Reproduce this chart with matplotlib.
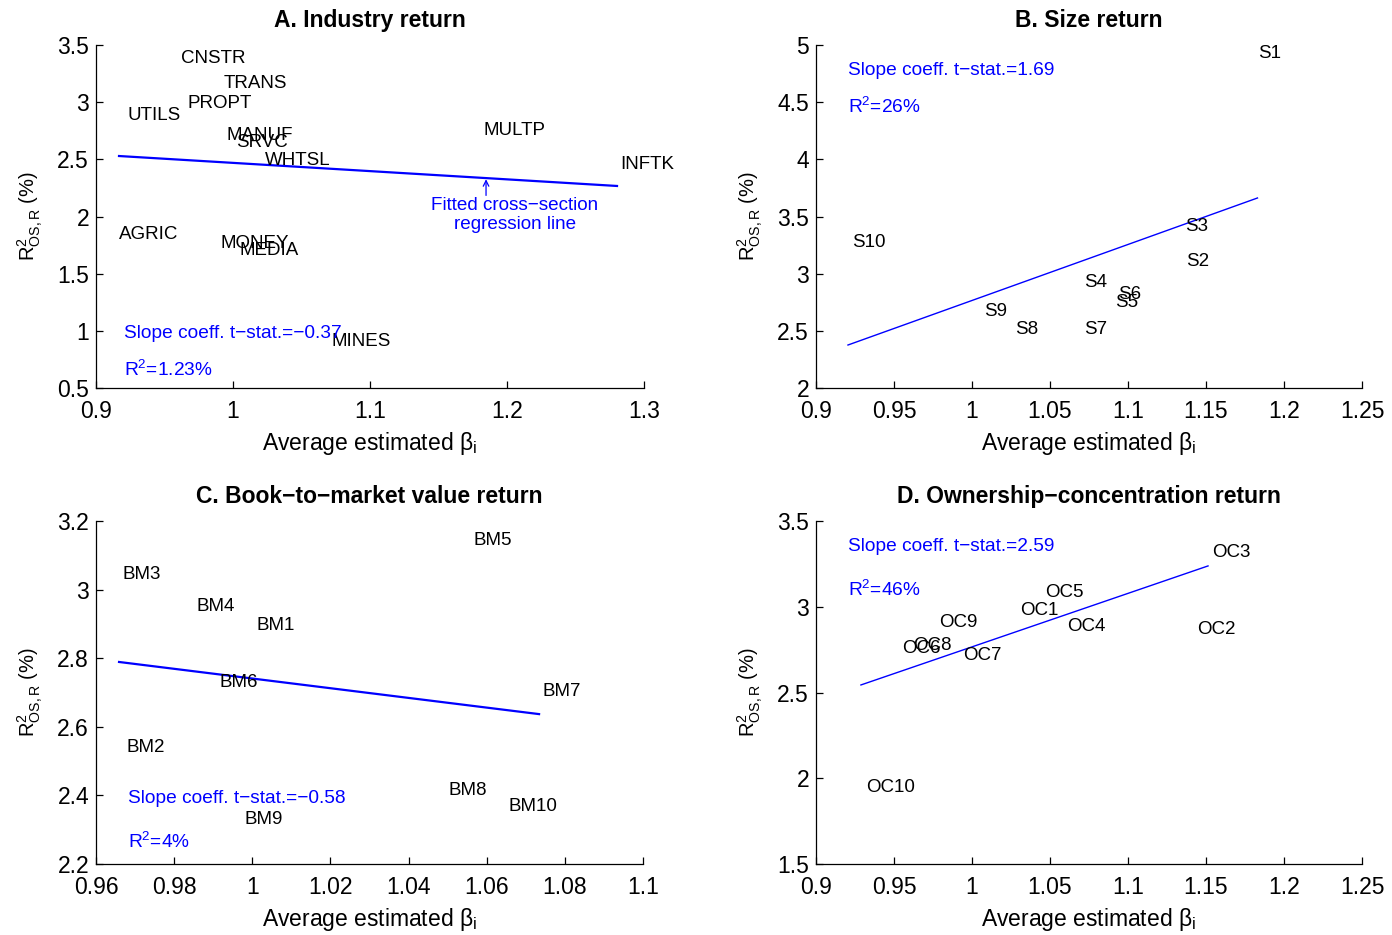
import numpy as np
import matplotlib
matplotlib.use("Agg")
import matplotlib.pyplot as plt
from matplotlib.ticker import FixedLocator, FuncFormatter
from matplotlib.transforms import offset_copy

plt.rcParams['font.family'] = ['Liberation Sans', 'DejaVu Sans']
plt.rcParams['mathtext.fontset'] = 'custom'
plt.rcParams['mathtext.rm'] = 'Liberation Sans'
plt.rcParams['mathtext.it'] = 'Liberation Sans:italic'
plt.rcParams['mathtext.bf'] = 'Liberation Sans:bold'

# ---------------- data ----------------
# A. Industry
ind_names = ["CNSTR", "TRANS", "PROPT", "UTILS", "MANUF", "SRVC", "WHTSL",
             "MULTP", "INFTK", "AGRIC", "MONEY", "MEDIA", "MINES"]
ind_beta = [0.962, 0.993, 0.967, 0.923, 0.995, 1.002, 1.023,
            1.183, 1.283, 0.917, 0.991, 1.005, 1.072]
ind_r2 = [3.40, 3.185, 3.01, 2.905, 2.73, 2.67, 2.51,
          2.77, 2.47, 1.86, 1.78, 1.72, 0.93]
ind_fit_x = [0.9168, 1.2803]
ind_fit_y = [2.529, 2.267]
ind_tstat = "−0.37"
ind_rsq = "1.23%"

# B. Size
size_names = ["S1", "S2", "S3", "S4", "S5", "S6", "S7", "S8", "S9", "S10"]
size_beta = [1.1833, 1.1372, 1.1365, 1.0718, 1.0917, 1.0936, 1.0718, 1.0276, 1.0077, 0.923]
size_r2 = [4.948, 3.128, 3.434, 2.944, 2.77, 2.84, 2.53, 2.53, 2.69, 3.294]
size_fit_x = [0.9205, 1.183]
size_fit_y = [2.376, 3.662]
size_tstat = "1.69"
size_rsq = "26%"

# C. Book-to-market
bm_names = ["BM1", "BM2", "BM3", "BM4", "BM5", "BM6", "BM7", "BM8", "BM9", "BM10"]
bm_beta = [1.001, 0.9679, 0.9669, 0.9856, 1.0567, 0.9915, 1.0744, 1.0503, 0.9981, 1.0657]
bm_r2 = [2.903, 2.547, 3.051, 2.958, 3.150, 2.736, 2.710, 2.422, 2.337, 2.375]
bm_fit_x = [0.9659, 1.0734]
bm_fit_y = [2.789, 2.637]
bm_tstat = "−0.58"
bm_rsq = "4%"

# D. Ownership concentration
oc_names = ["OC1", "OC2", "OC3", "OC4", "OC5", "OC6", "OC7", "OC8", "OC9", "OC10"]
oc_beta = [1.0308, 1.1442, 1.1538, 1.0609, 1.0468, 0.9551, 0.9942, 0.962, 0.9788, 0.932]
oc_r2 = [2.993, 2.88, 3.331, 2.90, 3.098, 2.771, 2.73, 2.789, 2.923, 1.961]
oc_fit_x = [0.9288, 1.1513]
oc_fit_y = [2.544, 3.238]
oc_tstat = "2.59"
oc_rsq = "46%"

# ---------------- figure ----------------
fig = plt.figure(figsize=(13.92, 9.35), dpi=100)
W, H = 1392.0, 935.0

def make_ax(left, top, right, bottom):
    return fig.add_axes([left / W, 1 - bottom / H, (right - left) / W, (bottom - top) / H])

fmt = FuncFormatter(lambda v, p: ("%g" % round(v, 6)))

def style(ax, xlim, xticks, ylim, yticks, title):
    ax.set_xlim(*xlim)
    ax.set_ylim(*ylim)
    ax.xaxis.set_major_locator(FixedLocator(xticks))
    ax.yaxis.set_major_locator(FixedLocator(yticks))
    ax.xaxis.set_major_formatter(fmt)
    ax.yaxis.set_major_formatter(fmt)
    for s in ["top", "right"]:
        ax.spines[s].set_visible(False)
    for s in ["left", "bottom"]:
        ax.spines[s].set_linewidth(0.9)
    ax.tick_params(direction="in", length=5, width=0.9, labelsize=16.5, top=False, right=False)
    ax.tick_params(axis="x", pad=9)
    ax.tick_params(axis="y", pad=5)
    ax.set_title(title, fontsize=16.5, fontweight="bold", pad=13)
    ax.set_xlabel(r"Average estimated $\mathrm{β_i}$", fontsize=16.5, labelpad=5)
    ax.set_ylabel(r"$\mathrm{R^2_{OS,R}}$ (%)", fontsize=14.5, labelpad=9)

def tr(ax):
    return offset_copy(ax.transData, fig=fig, x=0, y=-1.6, units="points")

def labels(ax, names, xs, ys):
    t = tr(ax)
    for n, x, y in zip(names, xs, ys):
        ax.text(x, y, n, fontsize=13.5, ha="left", va="center", color="black", transform=t)

def stats(ax, x, y1, y2, tstat, rsq):
    t = tr(ax)
    ax.text(x, y1, "Slope coeff. t−stat.=" + tstat, fontsize=13.8, color="blue",
            ha="left", va="center", transform=t)
    ax.text(x, y2, r"$\mathrm{R^2}$=" + rsq, fontsize=13.8, color="blue",
            ha="left", va="center", transform=t)

# A
axA = make_ax(96, 45, 644, 388)
style(axA, (0.9, 1.3), [0.9, 1.0, 1.1, 1.2, 1.3], (0.5, 3.5), [0.5, 1, 1.5, 2, 2.5, 3, 3.5],
      "A. Industry return")
axA.plot(ind_fit_x, ind_fit_y, color="blue", lw=1.6)
labels(axA, ind_names, ind_beta, ind_r2)
stats(axA, 0.9204, 1.0, 0.676, ind_tstat, ind_rsq)
axA.annotate("", xy=(1.1847, 2.35), xytext=(1.1847, 2.16),
             arrowprops=dict(arrowstyle="->", color="blue", lw=0.9, mutation_scale=10))
axA.text(1.2058, 2.035, "Fitted cross−section\nregression line", fontsize=13.6, color="blue",
         ha="center", va="center", linespacing=1.15, transform=tr(axA))

# B
axB = make_ax(816, 45, 1362, 388)
style(axB, (0.9, 1.25), [0.9, 0.95, 1.0, 1.05, 1.1, 1.15, 1.2, 1.25], (2, 5),
      [2, 2.5, 3, 3.5, 4, 4.5, 5], "B. Size return")
axB.plot(size_fit_x, size_fit_y, color="blue", lw=1.0)
labels(axB, size_names, size_beta, size_r2)
stats(axB, 0.9205, 4.80, 4.475, size_tstat, size_rsq)

# C
axC = make_ax(96, 521, 643, 864)
style(axC, (0.96, 1.1), [0.96, 0.98, 1.0, 1.02, 1.04, 1.06, 1.08, 1.1], (2.2, 3.2),
      [2.2, 2.4, 2.6, 2.8, 3.0, 3.2], "C. Book−to−market value return")
axC.plot(bm_fit_x, bm_fit_y, color="blue", lw=1.6)
labels(axC, bm_names, bm_beta, bm_r2)
stats(axC, 0.9682, 2.398, 2.270, bm_tstat, bm_rsq)

# D
axD = make_ax(816, 521, 1362, 864)
style(axD, (0.9, 1.25), [0.9, 0.95, 1.0, 1.05, 1.1, 1.15, 1.2, 1.25], (1.5, 3.5),
      [1.5, 2, 2.5, 3, 3.5], "D. Ownership−concentration return")
axD.plot(oc_fit_x, oc_fit_y, color="blue", lw=1.0)
labels(axD, oc_names, oc_beta, oc_r2)
stats(axD, 0.9205, 3.366, 3.109, oc_tstat, oc_rsq)

fig.savefig("out.png", dpi=100)
